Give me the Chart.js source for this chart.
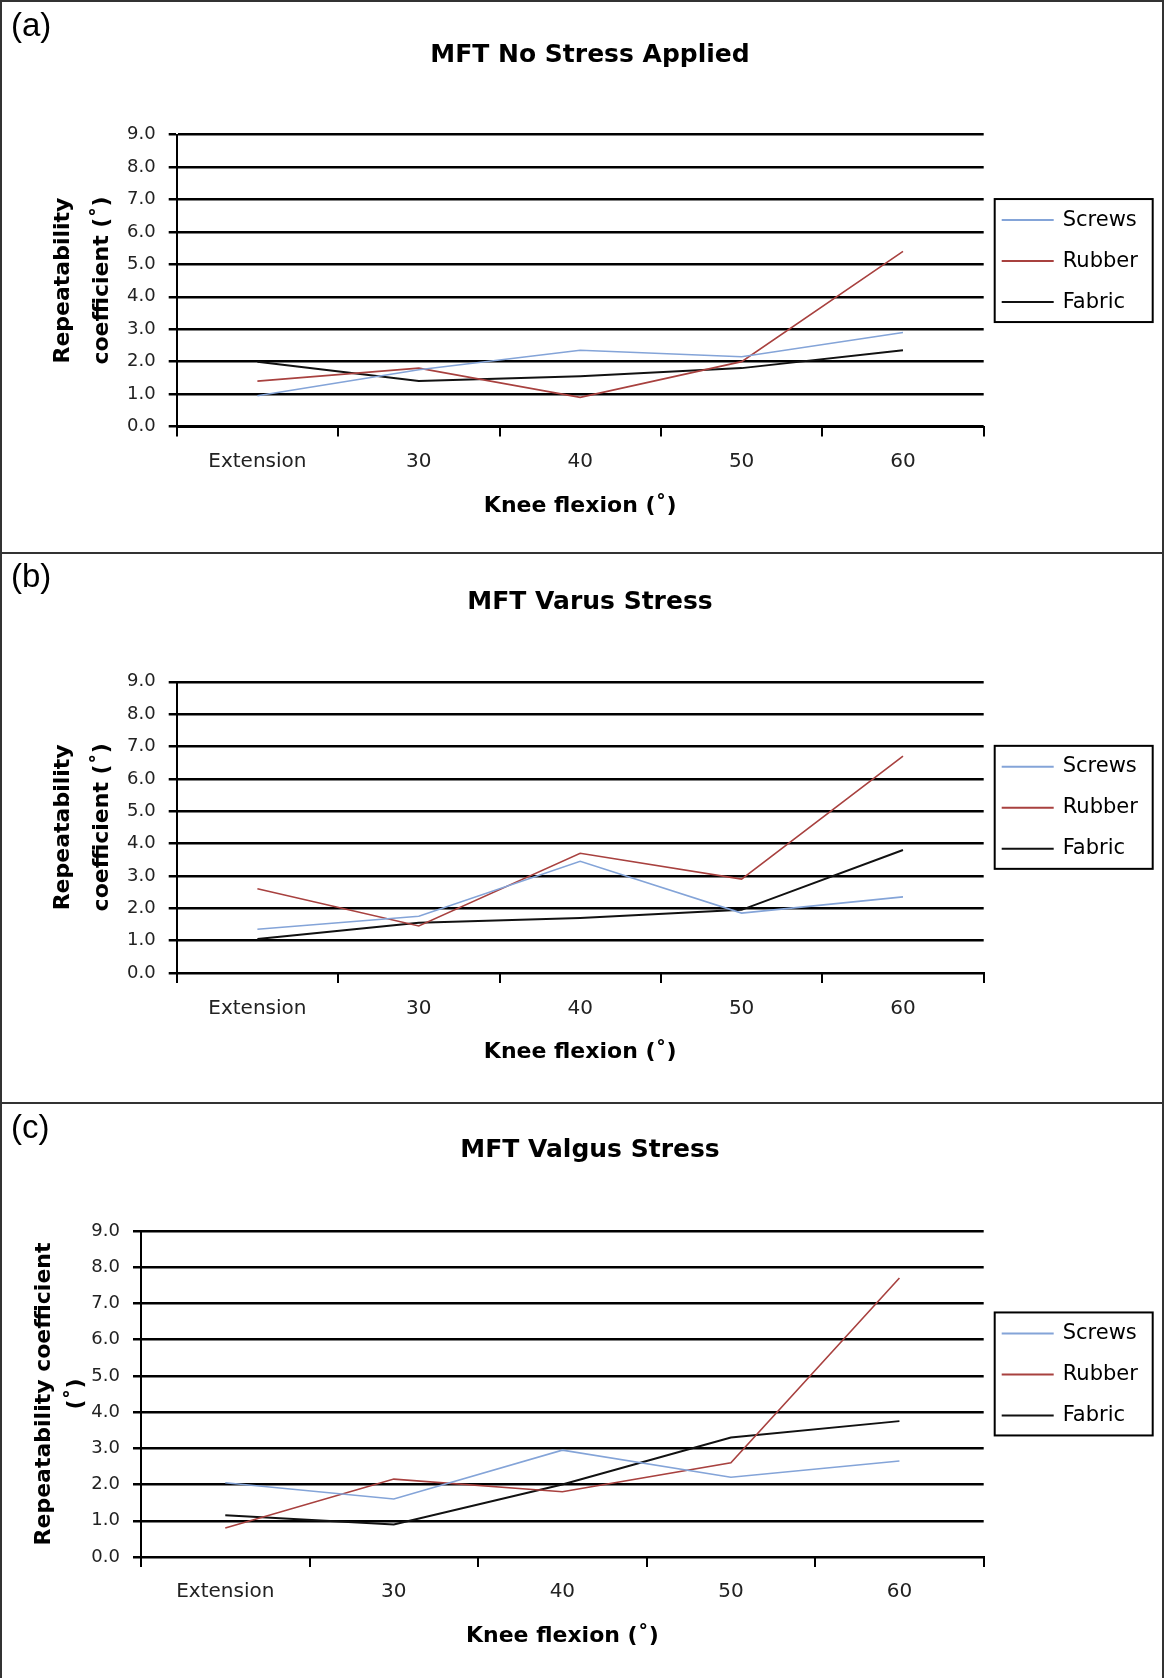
<!DOCTYPE html>
<html>
<head>
<meta charset="utf-8">
<script src="https://cdn.jsdelivr.net/npm/chart.js@4.4.1/dist/chart.umd.min.js"></script>
<style>
  html, body { margin: 0; padding: 0; background: #fff; }
  #fig { position: relative; width: 1164px; height: 1678px; overflow: hidden; background: #fff; }
  .panel { position: absolute; left: 0; width: 1164px; overflow: hidden; }
  .panel canvas { position: absolute; left: 0; top: 0; }
  .tag { position: absolute; left: 11px; font: 33px "Liberation Sans", Arial, sans-serif; line-height: 1; color: #000; }
  .rule { position: absolute; background: #333; }
</style>
</head>
<body>
<div id="fig">
  <div class="panel" style="top:0;height:553px"><canvas id="chartA" width="1180" height="553"></canvas><div class="tag" style="top:8px">(a)</div></div>
  <div class="panel" style="top:553px;height:550px"><canvas id="chartB" width="1180" height="550"></canvas><div class="tag" style="top:6px">(b)</div></div>
  <div class="panel" style="top:1103px;height:575px"><canvas id="chartC" width="1180" height="575"></canvas><div class="tag" style="top:7px">(c)</div></div>
  <div class="rule" style="left:0;top:0;width:2px;height:1678px"></div>
  <div class="rule" style="left:0;top:0;width:1164px;height:2px"></div>
  <div class="rule" style="left:1162px;top:0;width:2px;height:1678px"></div>
  <div class="rule" style="left:0;top:552px;width:1164px;height:2px"></div>
  <div class="rule" style="left:0;top:1102px;width:1164px;height:2px"></div>
</div>
<script>
// Knee flexion categories
const categories = ["Extension", "30", "40", "50", "60"];
const seriesNames = ["Screws", "Rubber", "Fabric"];
const seriesColors = ["#84a4d8", "#a8413f", "#111111"];

// (a) no stress
const screwsA = [0.95, 1.75, 2.35, 2.15, 2.9];
const rubberA = [1.4, 1.8, 0.9, 2.0, 5.4];
const fabricA = [2.0, 1.4, 1.55, 1.8, 2.35];

// (b) varus
const screwsB = [1.35, 1.75, 3.45, 1.85, 2.35];
const rubberB = [2.6, 1.45, 3.7, 2.9, 6.7];
const fabricB = [1.05, 1.55, 1.7, 1.95, 3.8];

// (c) valgus
const screwsC = [2.05, 1.6, 2.95, 2.2, 2.65];
const rubberC = [0.8, 2.15, 1.8, 2.6, 7.7];
const fabricC = [1.15, 0.9, 2.0, 3.3, 3.75];

const yMin = 0, yMax = 9, yStep = 1;
const xTitle = "Knee flexion (\u02DA)";
const canvasW = 1180;

// Boxed legend on the right, like the Excel one
const boxLegend = {
  id: "boxLegend",
  afterDraw(chart) {
    const { ctx, chartArea } = chart;
    const w = 158, h = 123;
    const x = chartArea.right + 11;
    const top = (chartArea.top + chartArea.bottom) / 2 - 20 - h / 2;
    ctx.save();
    ctx.strokeStyle = "#000";
    ctx.lineWidth = 2;
    ctx.strokeRect(x, top, w, h);
    ctx.font = "21px 'DejaVu Sans', sans-serif";
    ctx.textBaseline = "middle";
    chart.data.datasets.forEach((ds, i) => {
      const y = top + 21 + i * 41;
      ctx.strokeStyle = ds.borderColor;
      ctx.lineWidth = 2;
      ctx.beginPath();
      ctx.moveTo(x + 7, y);
      ctx.lineTo(x + 59, y);
      ctx.stroke();
      ctx.fillStyle = "#000";
      ctx.fillText(ds.label, x + 68, y);
    });
    ctx.restore();
  }
};

function makeChart(id, title, values, g) {
  const datasets = values.map((v, i) => ({
    label: seriesNames[i],
    data: v,
    borderColor: seriesColors[i],
    borderWidth: i === 2 ? 2 : 1.6,
    pointRadius: 0,
    tension: 0,
    fill: false
  }));
  return new Chart(document.getElementById(id), {
    type: "line",
    data: { labels: categories, datasets: datasets },
    plugins: [boxLegend],
    options: {
      responsive: false,
      animation: false,
      devicePixelRatio: 1,
      events: [],
      layout: { padding: 0 },
      plugins: {
        legend: { display: false },
        tooltip: { enabled: false },
        title: {
          display: true,
          text: title,
          color: "#000",
          font: { family: "DejaVu Sans", weight: "bold", size: 25, lineHeight: 1.2 },
          padding: { top: g.titleTop, bottom: g.titleBottom }
        }
      },
      scales: {
        x: {
          type: "category",
          offset: true,
          grid: { offset: true, drawOnChartArea: false, drawTicks: true, tickLength: 10, color: "#000", lineWidth: 2 },
          border: { display: true, color: "#000", width: 2 },
          ticks: { padding: g.xPad, color: "#222", font: { family: "DejaVu Sans", size: 20, lineHeight: 1.2 } },
          title: {
            display: true,
            text: xTitle,
            color: "#000",
            font: { family: "DejaVu Sans", weight: "bold", size: 22, lineHeight: 1.2 },
            padding: { top: 0, bottom: g.xTitlePad }
          },
          afterFit: s => { s.height = g.xH; }
        },
        y: {
          min: yMin,
          max: yMax,
          grid: { color: "#000", lineWidth: 2.5, drawTicks: true, tickLength: 8 },
          border: { display: true, color: "#000", width: 2 },
          ticks: {
            stepSize: yStep,
            padding: 13,
            color: "#222",
            font: { family: "DejaVu Sans", size: 18 },
            callback: v => v.toFixed(1)
          },
          title: {
            display: true,
            text: g.yTitle,
            color: "#000",
            font: { family: "DejaVu Sans", weight: "bold", size: 22, lineHeight: g.yLh + "px" },
            padding: { top: g.yTitlePad, bottom: 0 }
          },
          afterFit: s => { s.width = g.left; }
        },
        // empty right-hand box: room for the legend, keeps the title centred on the page
        yRoom: {
          type: "linear",
          position: "right",
          min: yMin,
          max: yMax,
          grid: { display: false },
          border: { display: false },
          ticks: { display: false },
          afterFit: s => { s.width = canvasW - g.right; }
        }
      }
    }
  });
}

makeChart("chartA", "MFT No Stress Applied", [screwsA, rubberA, fabricA], {
  left: 176.7, right: 983.7, titleTop: 40, titleBottom: 64.6,
  xH: 126.5, xPad: 13.5, xTitlePad: 34,
  yTitle: ["Repeatability", "coefficient (\u02DA)"], yLh: 39, yTitlePad: 44
});

makeChart("chartB", "MFT Varus Stress", [screwsB, rubberB, fabricB], {
  left: 176.7, right: 983.7, titleTop: 34, titleBottom: 64.8,
  xH: 130.1, xPad: 13.8, xTitlePad: 38,
  yTitle: ["Repeatability", "coefficient (\u02DA)"], yLh: 39, yTitlePad: 44
});

makeChart("chartC", "MFT Valgus Stress", [screwsC, rubberC, fabricC], {
  left: 141, right: 983.7, titleTop: 32, titleBottom: 65.9,
  xH: 121, xPad: 13.1, xTitlePad: 29,
  yTitle: ["Repeatability coefficient", "(\u02DA)"], yLh: 32, yTitlePad: 28
});
</script>
</body>
</html>
